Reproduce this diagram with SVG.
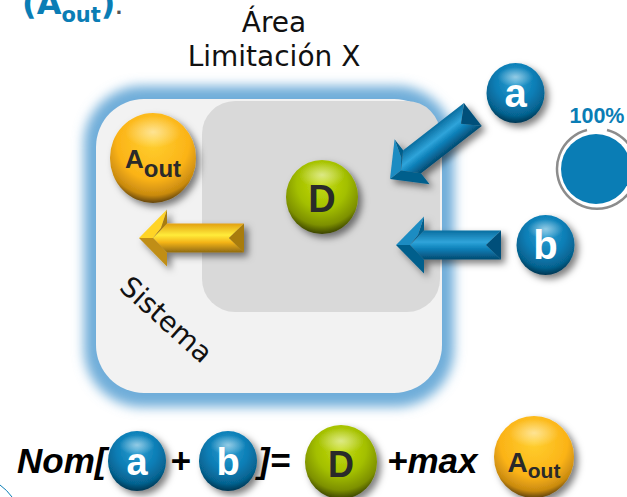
<svg xmlns="http://www.w3.org/2000/svg" xmlns:xlink="http://www.w3.org/1999/xlink" width="627" height="497" viewBox="0 0 627 497">
<style>
.lab{font-family:"DejaVu Sans",sans-serif;fill:#111;font-size:28px}
.sp{font-family:"Liberation Sans",Arial,sans-serif;font-weight:700;text-anchor:middle}
.w{fill:#fff}.k{fill:#2a2a2a}
.eq{font-family:"Liberation Sans",Arial,sans-serif;font-weight:700;font-style:italic;font-size:35px;fill:#000}
.blue{fill:url(#sb)}.green{fill:url(#sg)}.gold{fill:url(#sy)}
.hi{fill:url(#hi)}
</style>
<defs>
<filter id="glow" x="-10%" y="-10%" width="120%" height="120%"><feGaussianBlur stdDeviation="6"/></filter>
<filter id="ds" x="-30%" y="-30%" width="170%" height="170%"><feDropShadow dx="4" dy="4" stdDeviation="3.500" flood-color="#000" flood-opacity=".5"/></filter>
<radialGradient id="sb" cx=".5" cy=".32" r=".7"><stop offset="0" stop-color="#2f9fd2"/><stop offset=".5" stop-color="#0a7db5"/><stop offset=".8" stop-color="#06628f"/><stop offset="1" stop-color="#032f48"/></radialGradient>
<radialGradient id="sg" cx=".5" cy=".32" r=".7"><stop offset="0" stop-color="#c4dc10"/><stop offset=".5" stop-color="#a3bf00"/><stop offset=".8" stop-color="#7d9000"/><stop offset="1" stop-color="#2f3600"/></radialGradient>
<radialGradient id="sy" cx=".5" cy=".32" r=".7"><stop offset="0" stop-color="#ffcf2e"/><stop offset=".6" stop-color="#fbb317"/><stop offset=".85" stop-color="#c98a10"/><stop offset="1" stop-color="#4a3306"/></radialGradient>
<radialGradient id="hi" cx=".5" cy=".5" r=".5"><stop offset="0" stop-color="#fff" stop-opacity=".5"/><stop offset="1" stop-color="#fff" stop-opacity="0"/></radialGradient>
<linearGradient id="rbl" x1="0" y1="0" x2="0" y2="1"><stop offset="0" stop-color="#0a6ea0"/><stop offset=".4" stop-color="#2fa4da"/><stop offset=".65" stop-color="#0a7db5"/><stop offset="1" stop-color="#054a70"/></linearGradient>
<linearGradient id="ryl" x1="0" y1="0" x2="0" y2="1"><stop offset="0" stop-color="#e2a012"/><stop offset=".4" stop-color="#ffec3a"/><stop offset=".65" stop-color="#f4b418"/><stop offset="1" stop-color="#8f6a10"/></linearGradient>
<g id="arrowB">
<polygon points="14,0 28,-14.500 105,-14.500 90,0 105,14.500 28,14.500" fill="url(#rbl)"/>
<polygon points="105,-14.500 105,14.500 90,0" fill="#04507a"/>
<polygon points="0,0 28,-28.500 22,-10 14,0" fill="#1f8cc2"/>
<polygon points="28,-28.500 28,-14.500 14,0 22,-10" fill="#065e8c"/>
<polygon points="0,0 28,28.500 28,14.500 14,0" fill="#065e8c"/>
</g>
<g id="arrowY">
<polygon points="14,0 28,-14.500 105,-14.500 90,0 105,14.500 28,14.500" fill="url(#ryl)"/>
<polygon points="105,-14.500 105,14.500 90,0" fill="#a87c10"/>
<polygon points="0,0 28,-28.500 22,-10 14,0" fill="#ffd428"/>
<polygon points="28,-28.500 28,-14.500 14,0 22,-10" fill="#a87c10"/>
<polygon points="0,0 28,28.500 28,14.500 14,0" fill="#c08e14"/>
</g>
</defs>
<rect width="627" height="497" fill="#fff"/>

<g id="intro-text" fill="#0a7db5" font-family="DejaVu Sans,sans-serif" font-weight="700">
<text x="22" y="14" font-size="32">(A<tspan font-size="21" dy="8">out</tspan><tspan dy="-8">)</tspan><tspan fill="#555" font-size="18">.</tspan></text>
</g>
<path id="corner-arc" d="M0 485 Q7 490 12 497" fill="none" stroke="#0a7db5" stroke-width="1"/>

<g id="title" class="lab" text-anchor="middle">
<text x="274" y="32">Área</text>
<text x="274" y="66">Limitación X</text>
</g>

<g id="sistema">
<rect x="84" y="86" width="370" height="321" rx="58" fill="#6fadd9" filter="url(#glow)"/>
<rect x="96" y="99" width="346" height="294" rx="48" fill="#f2f2f2"/>
<text class="lab" transform="translate(118 289) rotate(42)">Sistema</text>
</g>
<g id="area-limitacion"><rect x="202" y="101" width="238" height="211" rx="33" fill="#d9d9d9"/></g>

<g id="connectors">
<g filter="url(#ds)"><use xlink:href="#arrowB" href="#arrowB" transform="translate(390 179) rotate(-37.9)"/></g>
<g filter="url(#ds)"><use xlink:href="#arrowB" href="#arrowB" transform="translate(396 245)"/></g>
<g filter="url(#ds)"><use xlink:href="#arrowY" href="#arrowY" transform="translate(139 238)"/></g>
</g>

<g id="node-Aout"><g filter="url(#ds)"><ellipse class="gold" cx="153" cy="158" rx="43" ry="45"/><ellipse class="hi" cx="153" cy="132" rx="28" ry="16"/></g>
<text class="sp k" x="153" y="168" font-size="26">A<tspan font-size="24" dy="9">out</tspan></text></g>
<g id="node-D"><g filter="url(#ds)"><ellipse class="green" cx="322" cy="197" rx="36" ry="37"/><ellipse class="hi" cx="322" cy="175" rx="23" ry="13"/></g>
<text class="sp k" x="322" y="212" font-size="38">D</text></g>
<g id="node-a"><g filter="url(#ds)"><ellipse class="blue" cx="515.500" cy="93" rx="29" ry="30"/><ellipse class="hi" cx="515.500" cy="77" rx="18" ry="10"/></g>
<text class="sp w" x="515.500" y="107" font-size="40">a</text></g>
<g id="node-b"><g filter="url(#ds)"><ellipse class="blue" cx="545.500" cy="245" rx="29" ry="30"/><ellipse class="hi" cx="545.500" cy="229" rx="18" ry="10"/></g>
<text class="sp w" x="545.500" y="259" font-size="40">b</text></g>

<g id="gauge">
<text x="597" y="123" font-family="Liberation Sans,Arial,sans-serif" font-weight="700" font-size="21.500" fill="#0a7db5" text-anchor="middle">100%</text>
<path d="M607 130 A40 40 0 1 1 587 130" fill="none" stroke="#8c8c8c" stroke-width="2.500"/>
<circle cx="596" cy="169" r="35" fill="#0a7db5"/>
</g>

<g id="formula">
<text class="eq" x="17" y="473">Nom[</text>
<text class="eq" x="170" y="473" font-style="normal">+</text>
<text class="eq" x="258" y="473">]=</text>
<text class="eq" x="387" y="473">+max</text>
<g id="eq-a"><g filter="url(#ds)"><ellipse class="blue" cx="137" cy="461" rx="29" ry="30"/><ellipse class="hi" cx="137" cy="445" rx="18" ry="10"/></g><text class="sp w" x="137" y="475" font-size="38">a</text></g>
<g id="eq-b"><g filter="url(#ds)"><ellipse class="blue" cx="228" cy="461" rx="29" ry="30"/><ellipse class="hi" cx="228" cy="445" rx="18" ry="10"/></g><text class="sp w" x="228" y="475" font-size="38">b</text></g>
<g id="eq-D"><g filter="url(#ds)"><ellipse class="green" cx="341" cy="462" rx="36" ry="37"/><ellipse class="hi" cx="341" cy="441" rx="23" ry="13"/></g><text class="sp k" x="341" y="477" font-size="36">D</text></g>
<g id="eq-Aout"><g filter="url(#ds)"><ellipse class="gold" cx="534" cy="457" rx="40" ry="41"/><ellipse class="hi" cx="534" cy="433" rx="25" ry="14"/></g><text class="sp k" x="534" y="472" font-size="28">A<tspan font-size="21" dy="6">out</tspan></text></g>
</g>
</svg>
